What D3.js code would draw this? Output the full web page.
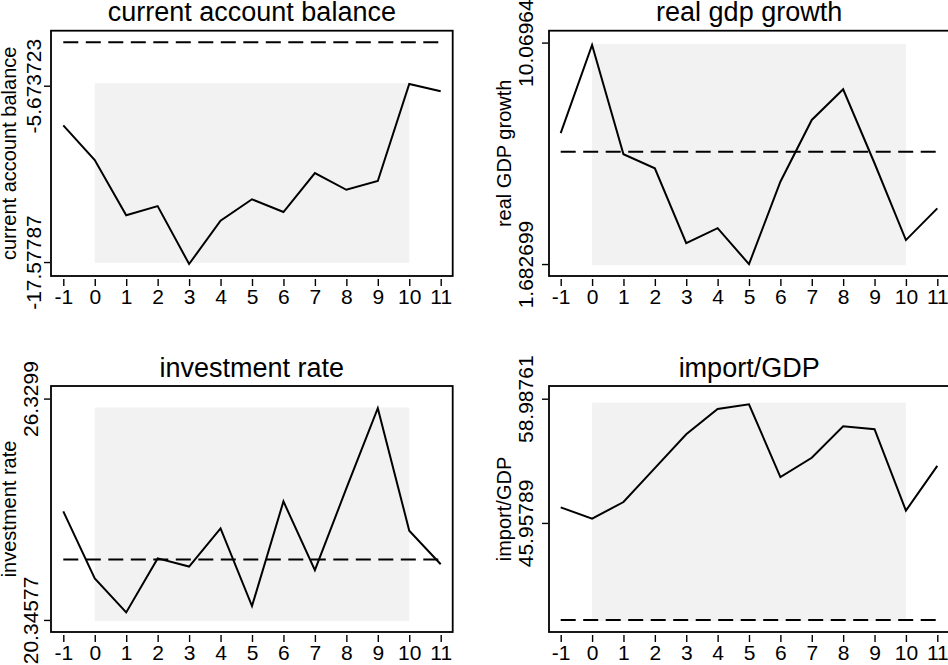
<!DOCTYPE html>
<html>
<head>
<meta charset="utf-8">
<script src="https://cdn.jsdelivr.net/npm/d3@7"></script>
<style>
  html, body { margin: 0; padding: 0; background: #ffffff; }
  svg { display: block; }
  text { font-family: "Liberation Sans", Arial, Helvetica, sans-serif; fill: #000; }
</style>
</head>
<body>
<svg id="chart" width="948" height="665"></svg>
<script>
// ---------------- data ----------------
const periods = [-1, 0, 1, 2, 3, 4, 5, 6, 7, 8, 9, 10, 11];

const currentAccount = [-8.35, -10.69, -14.42, -13.80, -17.71, -14.79, -13.34, -14.20, -11.57, -12.70, -12.11, -5.56, -6.05];
const realGdpGrowth  = [6.64, 9.98, 5.84, 5.31, 2.47, 3.04, 1.68, 4.80, 7.14, 8.30, 5.50, 2.59, 3.79];
const investmentRate = [23.28, 21.47, 20.55, 22.01, 21.79, 22.82, 20.72, 23.55, 21.69, 23.90, 26.07, 22.76, 21.85];
const importGdp      = [47.59, 46.41, 48.15, 51.71, 55.26, 57.91, 58.40, 50.77, 52.79, 56.10, 55.79, 47.25, 51.95];

// dashed reference levels
const referenceLevels = [-2.74, 5.94, 21.98, 35.77];

// shaded window: periods 0..10, value band per panel
const shadePeriods = [0, 10];
const shadeLow  = [-17.63, 1.64, 20.32, 35.67];
const shadeHigh = [-5.51, 10.02, 26.09, 58.57];

// y-axis tick labels
const currentAccountTicks = ["-17.57787", "-5.673723"];
const realGdpTicks        = ["1.682699", "10.06964"];
const investmentTicks     = ["20.34577", "26.3299"];
const importTicks         = ["45.95789", "58.98761"];

const titles  = ["current account balance", "real gdp growth", "investment rate", "import/GDP"];
const yTitles = ["current account balance", "real GDP growth", "investment rate", "import/GDP"];

// y ranges shown by each panel's frame
const yDomains = [[-18.52, -1.96], [1.23, 10.52], [20.02, 26.67], [34.52, 60.32]];

// ---------------- layout ----------------
const panels = [
  { series: currentAccount, ticks: currentAccountTicks, box: {l: 51,  r: 452.7, t: 30.7, b: 276},   xr: [63.3, 440.7],  tickLabX: 41,  yTitleX: 16, titleY: 21 },
  { series: realGdpGrowth,  ticks: realGdpTicks,        box: {l: 549, r: 949.3, t: 30.7, b: 276},   xr: [560.7, 937.3], tickLabX: 533, yTitleX: 511, titleY: 21 },
  { series: investmentRate, ticks: investmentTicks,     box: {l: 51,  r: 452.7, t: 386,  b: 632},   xr: [63.3, 440.7],  tickLabX: 38,  yTitleX: 16, titleY: 377 },
  { series: importGdp,      ticks: importTicks,         box: {l: 549, r: 949.3, t: 386,  b: 632},   xr: [560.7, 937.3], tickLabX: 533, yTitleX: 511, titleY: 377 }
];

const axisFont = 21;
const titleFont = 27;
const fontFam = '"Liberation Sans", Arial, Helvetica, sans-serif';

const svg = d3.select("#chart");

panels.forEach((p, i) => {
  const g = svg.append("g");
  const bx = p.box;
  const x = d3.scaleLinear().domain([periods[0], periods[periods.length - 1]]).range(p.xr);
  const y = d3.scaleLinear().domain(yDomains[i]).range([bx.b, bx.t]);

  // shaded window
  g.append("rect")
    .attr("x", x(shadePeriods[0]))
    .attr("y", y(shadeHigh[i]))
    .attr("width", x(shadePeriods[1]) - x(shadePeriods[0]))
    .attr("height", y(shadeLow[i]) - y(shadeHigh[i]))
    .attr("fill", "#f2f2f2");

  // dashed reference
  g.append("line")
    .attr("x1", x(periods[0])).attr("x2", x(periods[periods.length - 1]))
    .attr("y1", y(referenceLevels[i])).attr("y2", y(referenceLevels[i]))
    .attr("stroke", "#000").attr("stroke-width", 2)
    .attr("stroke-dasharray", "15,7.5");

  // series line
  const data = periods.map((t, k) => ({ t, v: p.series[k] }));
  g.append("path")
    .datum(data)
    .attr("fill", "none")
    .attr("stroke", "#000")
    .attr("stroke-width", 2)
    .attr("stroke-linejoin", "miter")
    .attr("d", d3.line().x(d => x(d.t)).y(d => y(d.v)));

  // frame
  g.append("rect")
    .attr("x", bx.l).attr("y", bx.t)
    .attr("width", bx.r - bx.l).attr("height", bx.b - bx.t)
    .attr("fill", "none").attr("stroke", "#000").attr("stroke-width", 1.8);

  // x axis
  const xa = g.append("g")
    .attr("transform", `translate(0,${bx.b + 3})`)
    .call(d3.axisBottom(x).tickValues(periods).tickFormat(d => String(d)).tickSize(7).tickSizeOuter(0));
  xa.select(".domain").remove();
  xa.selectAll(".tick line").attr("stroke", "#000").attr("stroke-width", 1.4);
  xa.selectAll(".tick text")
    .attr("y", 24.5).attr("dy", null)
    .style("font-size", axisFont + "px")
    .style("font-family", fontFam)
    .attr("fill", "#000");

  // y axis
  const tickVals = p.ticks.map(Number);
  const axisX = bx.l - 1;
  const ya = g.append("g")
    .attr("transform", `translate(${axisX},0)`)
    .call(d3.axisLeft(y).tickValues(tickVals).tickFormat((d, k) => p.ticks[k]).tickSize(6).tickSizeOuter(0));
  ya.select(".domain").remove();
  ya.selectAll(".tick line").attr("stroke", "#000").attr("stroke-width", 1.4);
  ya.selectAll(".tick text")
    .attr("x", 0).attr("y", 0).attr("dy", null)
    .attr("text-anchor", "middle")
    .attr("transform", `translate(${p.tickLabX - axisX},0) rotate(-90)`)
    .style("font-size", axisFont + "px")
    .style("font-family", fontFam)
    .attr("fill", "#000");

  // y title
  g.append("text")
    .attr("transform", `translate(${p.yTitleX},${(bx.t + bx.b) / 2}) rotate(-90)`)
    .attr("text-anchor", "middle")
    .style("font-size", "20px")
    .text(yTitles[i]);

  // title
  g.append("text")
    .attr("x", (bx.l + bx.r) / 2)
    .attr("y", p.titleY)
    .attr("text-anchor", "middle")
    .style("font-size", titleFont + "px")
    .text(titles[i]);
});
</script>
</body>
</html>
